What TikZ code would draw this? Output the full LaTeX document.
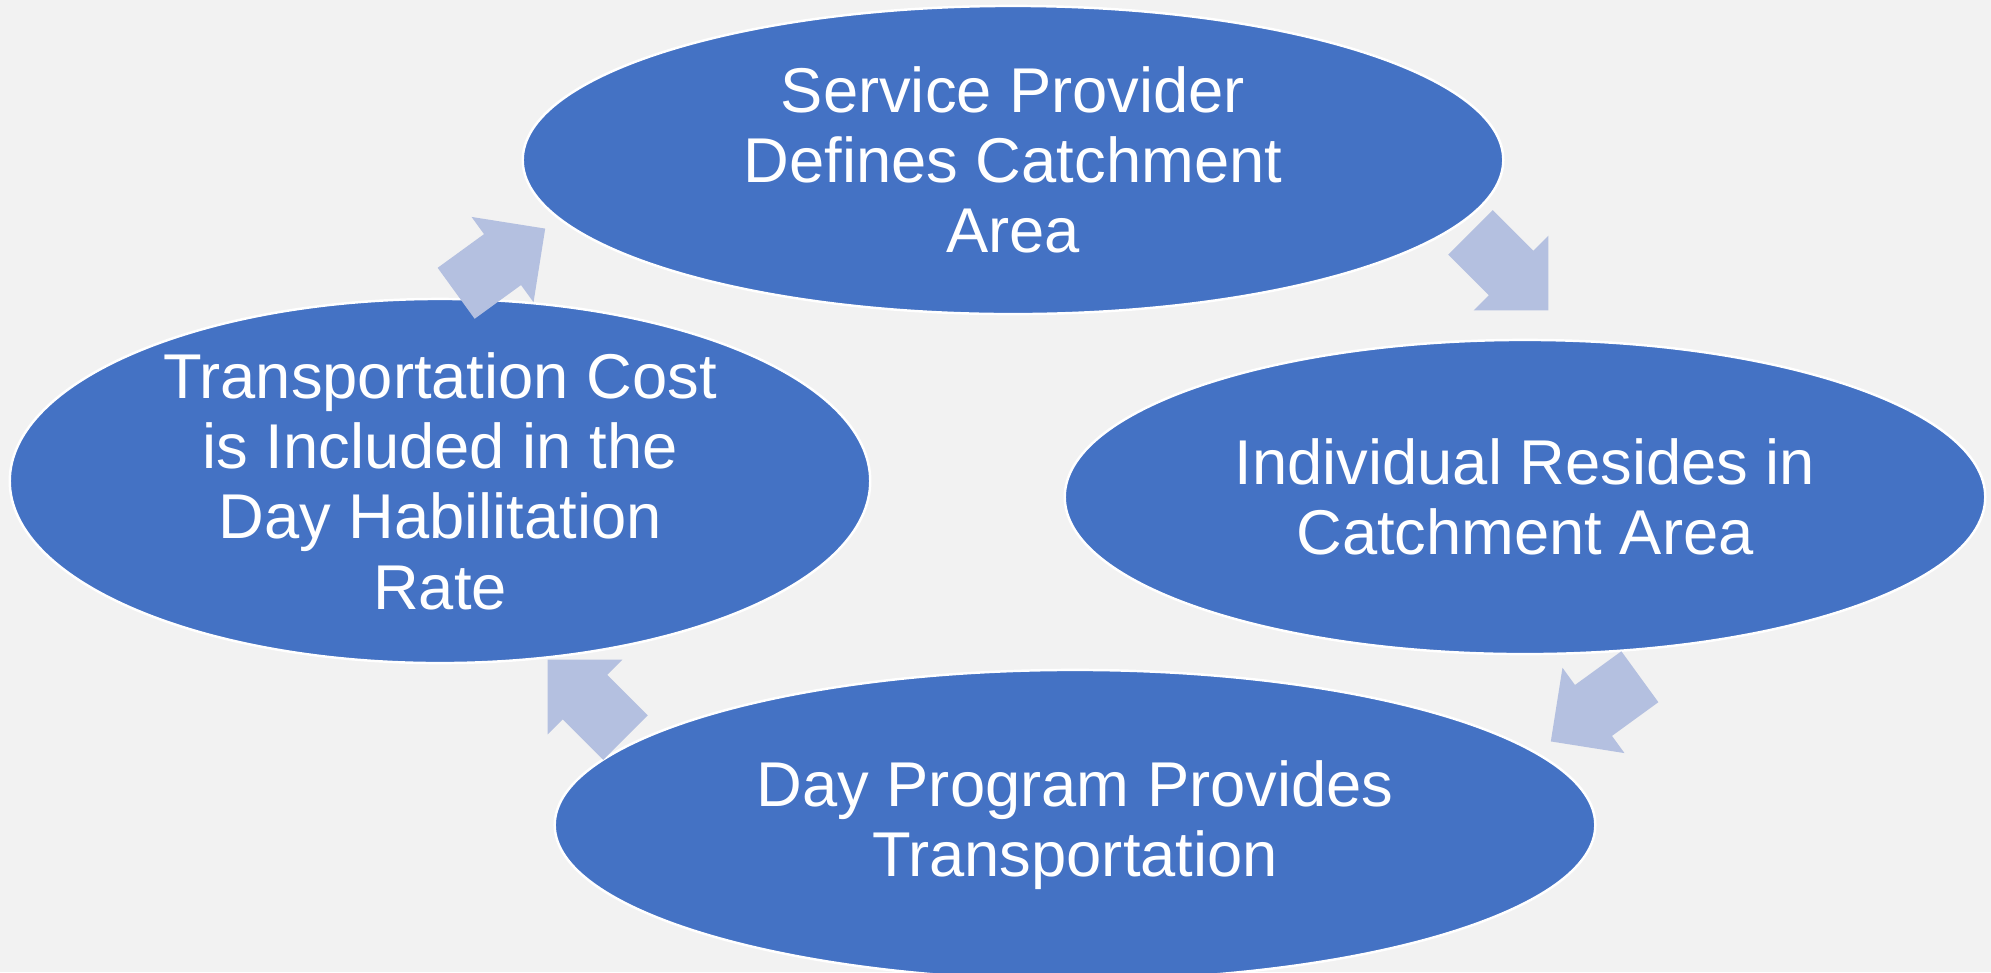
\documentclass[tikz,border=0pt]{standalone}
\usepackage{fontspec}
\setmainfont{Liberation Sans}
\usetikzlibrary{positioning}
\usetikzlibrary{shapes.geometric,shapes.arrows}
\definecolor{stageblue}{RGB}{68,114,196}
\definecolor{flowblue}{RGB}{180,192,224}
\definecolor{paper}{RGB}{242,242,242}
\tikzset{stage node/.style={ellipse,fill=stageblue,draw=white,line width=0.7pt,text=white,align=center,inner sep=0pt,font=\fontsize{18}{20}\selectfont},
	flow arrow/.style={single arrow,fill=flowblue,draw=none,anchor=tip,inner xsep=0pt,inner ysep=0.3075cm,minimum height=1.1cm,single arrow head extend=0.2125cm},}

\begin{document}
\begin{tikzpicture}[x=0.01cm, y=-0.01cm]
	\fill[paper] (0,0) rectangle (1991,972);
	\useasboundingbox (0,0) rectangle (1991,972);
	\clip (0,0) rectangle (1991,972);

	% the four stages of the cycle
	\node[stage node, minimum width=9.8cm, minimum height=3.08cm] (provider) at (1013,160) {Service Provider\\Defines Catchment\\Area};
	\node[stage node, minimum width=9.2cm, minimum height=3.14cm] (resides) at (1525,497) {Individual Resides in\\Catchment Area};
	\node[stage node, minimum width=10.4cm, minimum height=3.1cm] (program) at (1075,825) {Day Program Provides\\Transportation};
	\node[stage node, minimum width=8.6cm, minimum height=3.42cm] (cost) at (440,481) {Transportation Cost\\is Included in the\\Day Habilitation\\Rate};

	% block arrows between the stages
	\node[flow arrow, rotate=-45] (a1) at (1549,311) {};
	\node[flow arrow, rotate=216] (a2) at (1550,742) {};
	\node[flow arrow, rotate=135] (a3) at (547,659) {};
	\node[flow arrow, rotate=36] (a4) at (546,228) {};
\end{tikzpicture}
\end{document}
